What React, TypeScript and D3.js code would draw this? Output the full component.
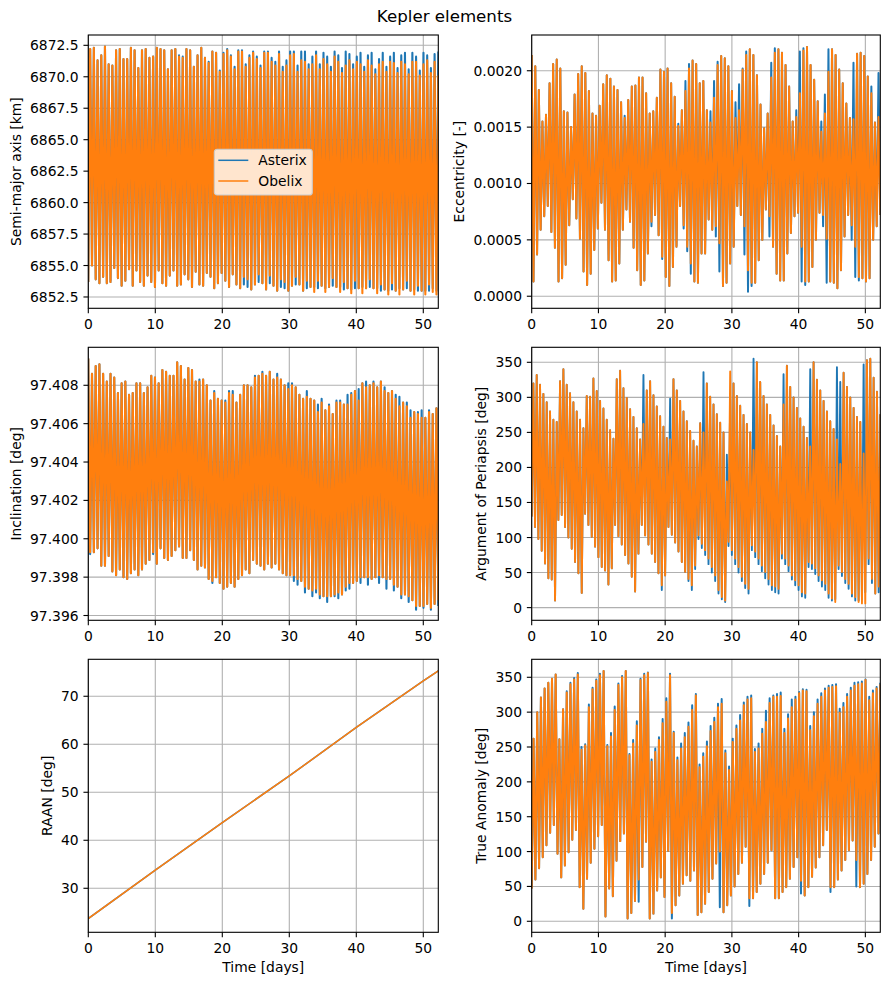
import React from "react";
import * as d3 from "d3";

// ---------------- data ----------------
// Each oscillating series is stored as the successive minima (lo) and
// maxima (hi) of its zig-zag, sampled evenly over the 52.24 day span.
const T_END = 52.24; // days

const xTicks = [0, 10, 20, 30, 40, 50];

// Semi-major axis [km]
const smaTicks = [6852.5, 6855, 6857.5, 6860, 6862.5, 6865, 6867.5, 6870, 6872.5];
const smaHiObelix = [
  6872.2, 6872.3, 6871.3, 6871.7, 6872.4, 6871.0, 6870.9, 6872.1, 6872.2, 6871.4,
  6871.4, 6872.3, 6872.1, 6870.7, 6872.1, 6872.2, 6871.5, 6871.6, 6872.3, 6872.2,
  6872.1, 6870.6, 6872.1, 6872.2, 6871.6, 6871.5, 6872.2, 6872.1, 6870.8, 6871.7,
  6872.3, 6871.5, 6871.1, 6872.0, 6871.9, 6870.4, 6871.8, 6872.1, 6871.6, 6870.6,
  6872.0, 6872.0, 6870.8, 6871.5, 6871.9, 6871.4, 6870.7, 6871.9, 6871.9, 6871.2,
  6870.9, 6871.8, 6870.4, 6870.9, 6871.7, 6871.8, 6870.4, 6871.3, 6871.2, 6870.6,
  6871.0, 6871.7, 6870.6, 6871.4, 6871.0, 6870.4, 6871.6, 6871.2, 6870.3, 6870.9,
  6871.3, 6870.6, 6871.2, 6871.0, 6870.4, 6871.3, 6870.9, 6870.2, 6871.0, 6871.2,
  6870.4, 6871.2, 6871.1, 6870.3, 6871.2, 6871.0, 6870.2, 6871.2, 6871.2, 6870.1,
  6871.0, 6871.3, 6870.3, 6871.2, 6870.1,
];
const smaHiAsterix = [
  6872.2, 6872.3, 6871.3, 6871.7, 6872.4, 6871.0, 6870.9, 6872.1, 6872.2, 6871.4,
  6871.4, 6872.3, 6872.1, 6870.7, 6872.1, 6872.2, 6871.5, 6871.6, 6872.3, 6872.2,
  6872.1, 6870.6, 6872.1, 6872.2, 6871.7, 6871.6, 6872.2, 6872.1, 6870.8, 6871.7,
  6872.3, 6871.5, 6871.2, 6872.0, 6871.9, 6870.5, 6871.9, 6872.2, 6871.7, 6870.8,
  6872.1, 6872.1, 6871.0, 6871.7, 6872.0, 6871.6, 6870.9, 6872.0, 6872.0, 6871.5,
  6871.2, 6872.0, 6870.8, 6871.3, 6872.0, 6872.0, 6870.9, 6872.0, 6872.0, 6871.0,
  6871.6, 6872.0, 6871.0, 6871.9, 6871.6, 6870.8, 6872.0, 6871.7, 6870.7, 6872.0,
  6871.8, 6871.0, 6871.6, 6871.9, 6870.8, 6871.7, 6871.9, 6870.6, 6871.4, 6871.9,
  6870.8, 6871.6, 6871.9, 6870.7, 6871.7, 6871.9, 6870.6, 6871.9, 6871.6, 6870.5,
  6871.9, 6871.7, 6870.7, 6871.8, 6872.0,
];
const smaLoObelix = [
  6853.7, 6855.0, 6853.9, 6853.6, 6854.1, 6853.6, 6853.7, 6854.8, 6854.0, 6853.4,
  6853.8, 6854.7, 6853.4, 6854.6, 6853.7, 6853.4, 6854.2, 6853.7, 6853.3, 6854.6,
  6853.6, 6853.4, 6854.2, 6854.6, 6853.4, 6853.5, 6854.3, 6853.9, 6853.3, 6854.5,
  6853.5, 6853.4, 6854.4, 6854.1, 6853.2, 6853.6, 6854.4, 6853.8, 6853.3, 6854.3,
  6853.5, 6853.2, 6854.1, 6853.9, 6853.1, 6853.5, 6854.3, 6853.6, 6853.1, 6854.2,
  6853.4, 6853.0, 6853.9, 6853.7, 6853.0, 6853.4, 6854.1, 6853.5, 6853.0, 6853.8,
  6853.3, 6852.9, 6853.8, 6853.4, 6852.9, 6853.3, 6854.0, 6853.3, 6852.9, 6853.7,
  6853.2, 6852.8, 6853.8, 6853.2, 6852.8, 6853.2, 6853.9, 6853.2, 6852.8, 6853.5,
  6853.1, 6852.7, 6853.6, 6853.0, 6852.7, 6853.1, 6853.8, 6853.0, 6852.7, 6853.4,
  6853.0, 6852.7, 6853.5, 6852.9, 6852.7,
];
const smaLoAsterix = [
  6853.7, 6855.0, 6853.9, 6853.6, 6854.1, 6853.6, 6853.7, 6854.8, 6854.0, 6853.4,
  6853.8, 6854.7, 6853.4, 6854.6, 6853.7, 6853.4, 6854.2, 6853.7, 6853.3, 6854.6,
  6853.6, 6853.4, 6854.2, 6854.6, 6853.4, 6853.5, 6854.3, 6853.9, 6853.3, 6854.5,
  6853.5, 6853.4, 6854.4, 6854.1, 6853.2, 6853.6, 6854.4, 6853.8, 6853.3, 6854.3,
  6853.5, 6853.2, 6853.5, 6853.3, 6853.1, 6853.5, 6853.7, 6853.6, 6853.1, 6853.6,
  6853.4, 6853.0, 6853.3, 6853.2, 6853.0, 6853.4, 6853.5, 6853.5, 6853.0, 6853.2,
  6853.3, 6853.3, 6853.2, 6853.4, 6853.2, 6853.3, 6853.4, 6853.3, 6853.3, 6853.1,
  6853.2, 6853.1, 6853.2, 6853.2, 6853.3, 6853.2, 6853.3, 6853.2, 6853.2, 6853.0,
  6853.1, 6853.0, 6853.1, 6853.0, 6853.2, 6853.1, 6853.2, 6853.0, 6853.1, 6853.0,
  6853.0, 6853.0, 6853.0, 6853.2, 6853.0,
];

// Eccentricity [-]
const eccTicks = [0, 0.0005, 0.001, 0.0015, 0.002];
const eccHiObelix = [
  0.00214, 0.00204, 0.00183, 0.00155, 0.00161, 0.00189, 0.00206, 0.00210, 0.00202, 0.00164,
  0.00163, 0.00150, 0.00179, 0.00197, 0.00204, 0.00198, 0.00182, 0.00162, 0.00160, 0.00169,
  0.00188, 0.00196, 0.00193, 0.00186, 0.00183, 0.00172, 0.00158, 0.00174, 0.00186, 0.00187,
  0.00194, 0.00194, 0.00180, 0.00162, 0.00164, 0.00176, 0.00201, 0.00199, 0.00202, 0.00189,
  0.00177, 0.00151, 0.00165, 0.00182, 0.00202, 0.00209, 0.00206, 0.00189,
  0.00191, 0.00165, 0.00154, 0.00176, 0.00205, 0.00213, 0.00211, 0.00204, 0.00182, 0.00158,
  0.00165, 0.00201, 0.00214, 0.00219, 0.00214, 0.00196, 0.00170, 0.00149, 0.00162, 0.00194,
  0.00216, 0.00219, 0.00216, 0.00205, 0.00186, 0.00155, 0.00159, 0.00180, 0.00218, 0.00221,
  0.00205, 0.00192, 0.00173, 0.00146, 0.00162, 0.00199, 0.00219, 0.00214, 0.00201, 0.00189,
  0.00171, 0.00158, 0.00157, 0.00215, 0.00216, 0.00213, 0.00195, 0.00180, 0.00154, 0.00159,
];
const eccHiAsterix = [
  0.00214, 0.00204, 0.00183, 0.00155, 0.00161, 0.00189, 0.00206, 0.00210, 0.00202, 0.00164,
  0.00163, 0.00150, 0.00179, 0.00197, 0.00204, 0.00198, 0.00182, 0.00162, 0.00160, 0.00169,
  0.00188, 0.00196, 0.00193, 0.00186, 0.00183, 0.00172, 0.00160, 0.00174, 0.00186, 0.00187,
  0.00194, 0.00194, 0.00180, 0.00162, 0.00164, 0.00176, 0.00201, 0.00199, 0.00202, 0.00189,
  0.00177, 0.00153, 0.00165, 0.00191, 0.00206, 0.00209, 0.00206, 0.00189,
  0.00191, 0.00165, 0.00164, 0.00191, 0.00208, 0.00213, 0.00211, 0.00204, 0.00182, 0.00172,
  0.00188, 0.00202, 0.00217, 0.00219, 0.00214, 0.00196, 0.00170, 0.00149, 0.00162, 0.00207,
  0.00220, 0.00219, 0.00216, 0.00205, 0.00186, 0.00155, 0.00165, 0.00217, 0.00220, 0.00221,
  0.00205, 0.00192, 0.00173, 0.00155, 0.00179, 0.00219, 0.00219, 0.00214, 0.00201, 0.00189,
  0.00171, 0.00158, 0.00207, 0.00215, 0.00216, 0.00213, 0.00195, 0.00186, 0.00154, 0.00198,
];
const eccLoObelix = [
  0.00013, 0.00037, 0.00059, 0.00071, 0.00080, 0.00057, 0.00043, 0.00013, 0.00016, 0.00028,
  0.00063, 0.00086, 0.00069, 0.00051, 0.00022, 0.00010, 0.00020, 0.00041, 0.00060, 0.00083,
  0.00059, 0.00032, 0.00013, 0.00014, 0.00029, 0.00059, 0.00077, 0.00066, 0.00043, 0.00023,
  0.00010, 0.00014, 0.00038, 0.00066, 0.00072, 0.00054, 0.00035, 0.00017, 0.00009, 0.00026,
  0.00044, 0.00080, 0.00063, 0.00044, 0.00029, 0.00013, 0.00012, 0.00038,
  0.00038, 0.00068, 0.00059, 0.00062, 0.00047, 0.00009, 0.00012, 0.00029, 0.00044, 0.00080,
  0.00072, 0.00062, 0.00023, 0.00012, 0.00012, 0.00032, 0.00050, 0.00077, 0.00071, 0.00044,
  0.00020, 0.00014, 0.00014, 0.00038, 0.00056, 0.00071, 0.00074, 0.00044, 0.00013, 0.00013,
  0.00026, 0.00050, 0.00074, 0.00072, 0.00051, 0.00013, 0.00012, 0.00007, 0.00023, 0.00053,
  0.00072, 0.00063, 0.00044, 0.00017, 0.00016, 0.00013, 0.00016, 0.00050, 0.00062, 0.00072,
];
const eccLoAsterix = [
  0.00013, 0.00037, 0.00059, 0.00071, 0.00080, 0.00057, 0.00043, 0.00013, 0.00016, 0.00028,
  0.00063, 0.00086, 0.00069, 0.00051, 0.00022, 0.00010, 0.00020, 0.00041, 0.00060, 0.00083,
  0.00059, 0.00032, 0.00013, 0.00014, 0.00029, 0.00059, 0.00077, 0.00066, 0.00043, 0.00023,
  0.00010, 0.00014, 0.00038, 0.00062, 0.00072, 0.00054, 0.00033, 0.00017, 0.00009, 0.00026,
  0.00044, 0.00080, 0.00060, 0.00040, 0.00020, 0.00013, 0.00012, 0.00038,
  0.00038, 0.00068, 0.00059, 0.00053, 0.00022, 0.00009, 0.00012, 0.00029, 0.00044, 0.00080,
  0.00072, 0.00037, 0.00004, 0.00009, 0.00012, 0.00032, 0.00050, 0.00077, 0.00053, 0.00044,
  0.00020, 0.00014, 0.00014, 0.00038, 0.00056, 0.00071, 0.00074, 0.00013, 0.00010, 0.00013,
  0.00026, 0.00050, 0.00074, 0.00062, 0.00012, 0.00013, 0.00012, 0.00007, 0.00023, 0.00053,
  0.00072, 0.00050, 0.00017, 0.00014, 0.00016, 0.00013, 0.00016, 0.00050, 0.00062, 0.00072,
];

// Inclination [deg]
const incTicks = [97.396, 97.398, 97.4, 97.402, 97.404, 97.406, 97.408];
const incHiObelix = [
  97.4094, 97.4086, 97.4090, 97.4091, 97.4086, 97.4082, 97.4086, 97.4084, 97.4076, 97.4081,
  97.4082, 97.4075, 97.4076, 97.4081, 97.4081, 97.4076, 97.4079, 97.4085, 97.4084, 97.4081,
  97.4088, 97.4087, 97.4085, 97.4085, 97.4092, 97.4090, 97.4083, 97.4089, 97.4088, 97.4082,
  97.4082, 97.4083, 97.4080, 97.4072, 97.4076, 97.4073, 97.4072, 97.4071, 97.4076, 97.4075,
  97.4071, 97.4075, 97.4080, 97.4080, 97.4079, 97.4084, 97.4085, 97.4086, 97.4085, 97.4087,
  97.4083, 97.4084, 97.4083, 97.4080, 97.4078, 97.4080, 97.4079, 97.4075, 97.4073, 97.4074,
  97.4073, 97.4072, 97.4066, 97.4071, 97.4067, 97.4069, 97.4065, 97.4071, 97.4071, 97.4070,
  97.4070, 97.4075, 97.4077, 97.4072, 97.4081, 97.4079, 97.4080, 97.4081, 97.4079, 97.4082,
  97.4077, 97.4076, 97.4077, 97.4073, 97.4069, 97.4071, 97.4069, 97.4063, 97.4066, 97.4065,
  97.4063, 97.4063, 97.4066, 97.4065, 97.4068,
];
const incHiAsterix = [
  97.4094, 97.4086, 97.4090, 97.4091, 97.4086, 97.4082, 97.4086, 97.4084, 97.4076, 97.4081,
  97.4082, 97.4075, 97.4076, 97.4081, 97.4081, 97.4076, 97.4079, 97.4085, 97.4084, 97.4081,
  97.4088, 97.4087, 97.4085, 97.4085, 97.4092, 97.4090, 97.4083, 97.4089, 97.4088, 97.4082,
  97.4083, 97.4083, 97.4080, 97.4072, 97.4077, 97.4073, 97.4072, 97.4072, 97.4077, 97.4077,
  97.4071, 97.4075, 97.4080, 97.4080, 97.4079, 97.4085, 97.4085, 97.4087, 97.4085, 97.4087,
  97.4083, 97.4086, 97.4083, 97.4080, 97.4081, 97.4081, 97.4079, 97.4075, 97.4073, 97.4077,
  97.4073, 97.4072, 97.4070, 97.4073, 97.4067, 97.4070, 97.4065, 97.4072, 97.4072, 97.4070,
  97.4075, 97.4076, 97.4077, 97.4078, 97.4081, 97.4082, 97.4080, 97.4082, 97.4079, 97.4082,
  97.4079, 97.4076, 97.4077, 97.4075, 97.4074, 97.4071, 97.4071, 97.4067, 97.4066, 97.4066,
  97.4067, 97.4063, 97.4067, 97.4065, 97.4068,
];
const incLoObelix = [
  97.3993, 97.3993, 97.3995, 97.3986, 97.3986, 97.3991, 97.3983, 97.3981, 97.3984, 97.3980,
  97.3979, 97.3982, 97.3984, 97.3981, 97.3984, 97.3987, 97.3989, 97.3993, 97.3987, 97.3995,
  97.3990, 97.3989, 97.3991, 97.3994, 97.3996, 97.3990, 97.3990, 97.3994, 97.3989, 97.3984,
  97.3986, 97.3985, 97.3979, 97.3978, 97.3980, 97.3977, 97.3974, 97.3975, 97.3977, 97.3975,
  97.3979, 97.3981, 97.3984, 97.3982, 97.3989, 97.3987, 97.3986, 97.3984, 97.3987, 97.3985,
  97.3987, 97.3984, 97.3982, 97.3981, 97.3981, 97.3981, 97.3979, 97.3978, 97.3975, 97.3974,
  97.3973, 97.3974, 97.3971, 97.3970, 97.3970, 97.3970, 97.3971, 97.3972, 97.3971, 97.3975,
  97.3977, 97.3977, 97.3978, 97.3980, 97.3980, 97.3980, 97.3979, 97.3980, 97.3981, 97.3980,
  97.3979, 97.3979, 97.3976, 97.3975, 97.3971, 97.3971, 97.3970, 97.3968, 97.3965, 97.3965,
  97.3965, 97.3966, 97.3964, 97.3966, 97.3968,
];
const incLoAsterix = [
  97.3992, 97.3993, 97.3995, 97.3986, 97.3986, 97.3991, 97.3983, 97.3981, 97.3984, 97.3980,
  97.3979, 97.3982, 97.3984, 97.3981, 97.3984, 97.3987, 97.3989, 97.3992, 97.3987, 97.3995,
  97.3990, 97.3989, 97.3991, 97.3994, 97.3996, 97.3990, 97.3990, 97.3994, 97.3989, 97.3984,
  97.3986, 97.3985, 97.3979, 97.3977, 97.3980, 97.3977, 97.3974, 97.3975, 97.3977, 97.3975,
  97.3979, 97.3981, 97.3984, 97.3982, 97.3989, 97.3987, 97.3986, 97.3984, 97.3987, 97.3985,
  97.3987, 97.3984, 97.3982, 97.3981, 97.3981, 97.3978, 97.3976, 97.3978, 97.3972, 97.3974,
  97.3970, 97.3972, 97.3969, 97.3970, 97.3967, 97.3970, 97.3970, 97.3969, 97.3971, 97.3973,
  97.3974, 97.3977, 97.3978, 97.3977, 97.3980, 97.3976, 97.3979, 97.3980, 97.3977, 97.3980,
  97.3974, 97.3979, 97.3973, 97.3975, 97.3969, 97.3971, 97.3967, 97.3968, 97.3963, 97.3965,
  97.3964, 97.3966, 97.3963, 97.3966, 97.3965,
];

// Argument of periapsis [deg]
const angTicks = [0, 50, 100, 150, 200, 250, 300, 350];
const perHiObelix = [
  320, 332, 318, 305, 293, 280, 268, 265,
  323, 340, 318, 306, 293, 280, 268, 256,
  302, 301, 327, 309, 295, 284, 268, 253, 241,
  326, 338, 313, 299, 283, 272, 256, 240,
  262, 310, 323, 303, 287, 273, 258, 242,
  240, 326, 310, 295, 280, 266, 252, 238, 230,
  263, 250, 320, 301, 290, 276, 264, 250, 180,
  337, 320, 302, 288, 275, 262, 250,
  225, 350, 322, 302, 290, 275, 260, 245, 230,
  290, 345, 315, 300, 285, 270, 258, 242,
  230, 350, 325, 310, 295, 280, 266, 255, 240,
  205, 335, 315, 300, 285, 272, 265, 220, 353,
  355, 328, 308, 276,
];
const perHiAsterix = [
  320, 332, 318, 305, 293, 280, 268, 265,
  323, 340, 318, 306, 293, 280, 268, 256,
  302, 301, 327, 309, 295, 284, 268, 253, 241,
  326, 338, 313, 299, 283, 272, 256, 240,
  332, 310, 323, 303, 287, 273, 258, 242,
  298, 326, 310, 295, 280, 266, 252, 238, 230,
  263, 336, 320, 301, 290, 276, 264, 250, 218,
  297, 320, 302, 288, 275, 262, 250,
  355, 350, 322, 302, 290, 275, 260, 245, 230,
  333, 345, 315, 300, 285, 270, 258, 242,
  340, 350, 325, 310, 295, 280, 266, 255, 343,
  322, 335, 315, 300, 285, 272, 265, 347, 353,
  355, 328, 308, 276,
];
const perLoObelix = [
  130, 115, 98, 81, 63, 42, 40, 10,
  125, 132, 115, 100, 84, 65, 49, 21,
  134, 118, 101, 87, 72, 58, 53, 33, 56,
  118, 102, 90, 75, 63, 44, 23, 77,
  118, 103, 90, 77, 65, 49, 32, 46,
  115, 104, 93, 80, 65, 51, 41, 32, 60,
  103, 91, 82, 70, 58, 46, 25, 15, 10,
  94, 82, 70, 58, 44, 34, 27,
  89, 80, 70, 60, 51, 41, 32, 30, 27,
  77, 70, 60, 46, 39, 32, 22, 20,
  65, 63, 56, 46, 39, 34, 20, 13, 8,
  60, 51, 41, 34, 20, 15, 8, 6, 6,
  70, 41, 20, 30,
];
const perLoAsterix = [
  130, 115, 98, 81, 63, 42, 40, 10,
  125, 132, 115, 100, 84, 65, 49, 21,
  134, 118, 101, 87, 72, 58, 53, 33, 56,
  118, 102, 90, 75, 63, 44, 23, 77,
  118, 103, 90, 77, 65, 49, 25, 46,
  115, 104, 93, 80, 65, 51, 38, 25, 55,
  98, 85, 75, 62, 50, 38, 20, 12, 8,
  88, 75, 62, 50, 38, 28, 20,
  82, 72, 62, 52, 42, 33, 25, 22, 20,
  70, 62, 52, 40, 32, 25, 16, 14,
  58, 55, 48, 38, 30, 25, 14, 10, 12,
  55, 45, 35, 27, 16, 10, 10, 12, 22,
  62, 35, 20, 22,
];

// RAAN [deg]
const raanTicks = [30, 40, 50, 60, 70];
const raanDays = [0, 10, 20, 30, 40, 50, 52.24];
const raanAsterix = [23.7, 33.8, 43.7, 53.4, 63.5, 73.2, 75.3];
const raanObelix = [23.7, 33.8, 43.7, 53.4, 63.5, 73.2, 75.3];

// True anomaly [deg]
const taHiObelix = [
  262, 300, 321, 334, 342, 348, 354, 261, 304, 328, 340, 347, 354, 246, 252, 307, 333, 345, 353, 359,
  251, 265, 303, 339, 350, 359, 238, 255, 281, 346, 353, 356, 229, 243, 260, 284, 315, 353, 270, 231,
  248, 264, 279, 303, 324, 221,
  236, 251, 273, 286, 307, 312, 241, 217, 257, 276, 288, 310, 318, 320, 243, 248, 269, 286, 313, 322,
  322, 323, 270, 291, 307, 318, 327, 331, 330, 274, 294, 312, 322, 331, 335, 336, 337, 299, 307, 322,
  331, 338, 340, 341, 346, 317, 327, 334, 340,
];
const taHiAsterix = [
  262, 300, 321, 334, 342, 348, 354, 261, 304, 330, 342, 349, 356, 250, 254, 311, 335, 347, 355, 359,
  253, 270, 308, 341, 352, 359, 240, 260, 287, 348, 355, 357, 232, 248, 264, 290, 320, 355, 272, 235,
  255, 270, 285, 310, 326, 225,
  241, 258, 280, 292, 312, 319, 245, 222, 262, 281, 296, 314, 322, 324, 247, 255, 276, 302, 320, 324,
  326, 328, 276, 297, 318, 322, 329, 333, 332, 280, 300, 318, 327, 334, 338, 339, 340, 305, 313, 326,
  335, 342, 343, 344, 347, 322, 331, 336, 342,
];
const taLoObelix = [
  47, 60, 76, 92, 109, 127, 138, 97, 63, 80, 99, 117, 131, 49, 18, 61, 84, 104, 122, 138,
  7, 47, 36, 87, 115, 126, 4, 12, 29, 60, 78, 114, 4, 11, 44, 63, 35, 101, 12, 23,
  37, 54, 66, 58, 73, 9,
  13, 25, 42, 61, 83, 100, 13, 23, 37, 50, 68, 84, 107, 33, 33, 42, 54, 68, 84, 102,
  33, 33, 42, 49, 61, 78, 92, 58, 37, 49, 64, 77, 92, 109, 131, 49, 49, 60, 73, 88,
  102, 116, 88, 49, 54, 68, 88, 107, 126,
];
const taLoAsterix = [
  47, 60, 76, 92, 109, 127, 138, 97, 63, 80, 99, 117, 131, 49, 18, 61, 84, 104, 122, 138,
  7, 47, 36, 87, 115, 126, 4, 12, 29, 28, 78, 114, 4, 11, 44, 63, 35, 101, 4, 23,
  37, 54, 66, 58, 73, 9,
  13, 25, 42, 61, 83, 20, 13, 23, 37, 50, 68, 84, 107, 22, 33, 42, 54, 68, 84, 102,
  33, 33, 42, 49, 61, 78, 92, 40, 37, 49, 64, 77, 92, 109, 131, 42, 49, 60, 73, 88,
  102, 116, 50, 49, 54, 68, 88, 107, 126,
];

// ---------------- layout ----------------
const W = 889;
const H = 985;
const COLS: [number, number][] = [[88.3, 438.3], [531.7, 880.3]];
const ROWS: [number, number][] = [[35, 308.3], [347.3, 620.3], [659.3, 932.3]];
const FS = 13.89;
const TICK = 4.86;
const PAD = 4.86;
const GRID = "#b0b0b0";
const BLUE = "#1f77b4";
const ORANGE = "#ff7f0e";

type Pt = [number, number];

// even sampling of the alternating minima / maxima over the time span
function zigzag(lo: number[], hi: number[], hiFirst: boolean): Pt[] {
  const n = Math.min(lo.length, hi.length);
  const step = T_END / (2 * n - 1);
  const pts: Pt[] = [];
  for (let i = 0; i < n; i++) {
    const a = hiFirst ? hi[i] : lo[i];
    const b = hiFirst ? lo[i] : hi[i];
    pts.push([2 * i * step, a]);
    pts.push([(2 * i + 1) * step, b]);
  }
  return pts;
}

const charW = (c: string) => (c === "." ? 0.318 : c === "-" ? 0.838 : 0.636);
const textW = (s: string) => s.split("").reduce((a, c) => a + charW(c), 0) * FS;

interface PanelSpec {
  row: number;
  col: number;
  label: string;
  domain: [number, number];
  ticks: number[];
  fmt: (v: number) => string;
  asterix: Pt[];
  obelix: Pt[];
  width: number;
  legend?: boolean;
}

const panels: PanelSpec[] = [
  {
    row: 0, col: 0, label: "Semi-major axis [km]", domain: [6851.6, 6873.32],
    ticks: smaTicks, fmt: d3.format(".1f"),
    asterix: zigzag(smaLoAsterix, smaHiAsterix, false),
    obelix: zigzag(smaLoObelix, smaHiObelix, false),
    width: 2.1,
    legend: true,
  },
  {
    row: 0, col: 1, label: "Eccentricity [-]", domain: [-0.000107, 0.002317],
    ticks: eccTicks, fmt: d3.format(".4f"),
    asterix: zigzag(eccLoAsterix, eccHiAsterix, true),
    obelix: zigzag(eccLoObelix, eccHiObelix, true),
    width: 2.0,
  },
  {
    row: 1, col: 0, label: "Inclination [deg]", domain: [97.39575, 97.40998],
    ticks: incTicks, fmt: d3.format(".3f"),
    asterix: zigzag(incLoAsterix, incHiAsterix, true),
    obelix: zigzag(incLoObelix, incHiObelix, true),
    width: 2.1,
  },
  {
    row: 1, col: 1, label: "Argument of Periapsis [deg]", domain: [-18.1, 371.4],
    ticks: angTicks, fmt: d3.format("d"),
    asterix: zigzag(perLoAsterix, perHiAsterix, false),
    obelix: zigzag(perLoObelix, perHiObelix, false),
    width: 1.9,
  },
  {
    row: 2, col: 0, label: "RAAN [deg]", domain: [20.83, 77.7],
    ticks: raanTicks, fmt: d3.format("d"),
    asterix: raanDays.map((t, i) => [t, raanAsterix[i]] as Pt),
    obelix: raanDays.map((t, i) => [t, raanObelix[i]] as Pt),
    width: 1.5,
  },
  {
    row: 2, col: 1, label: "True Anomaly [deg]", domain: [-15.8, 375.8],
    ticks: angTicks, fmt: d3.format("d"),
    asterix: zigzag(taLoAsterix, taHiAsterix, false),
    obelix: zigzag(taLoObelix, taHiObelix, false),
    width: 2.0,
  },
];

function Panel({ p, idx }: { p: PanelSpec; idx: number }) {
  const [x0, x1] = COLS[p.col];
  const [y0, y1] = ROWS[p.row];
  const x = d3.scaleLinear().domain([0, T_END]).range([x0, x1]);
  const y = d3.scaleLinear().domain(p.domain).range([y1, y0]);
  const line = d3.line<Pt>().x((d) => x(d[0])).y((d) => y(d[1]));
  const labelW = d3.max(p.ticks, (t) => textW(p.fmt(t))) || 0;
  const ylabX = x0 - TICK - PAD - labelW - 9.3;
  const ymid = (y0 + y1) / 2;
  const clipId = `clip-${idx}`;

  return (
    <g>
      <defs>
        <clipPath id={clipId}>
          <rect x={x0} y={y0} width={x1 - x0} height={y1 - y0} />
        </clipPath>
      </defs>
      {xTicks.map((t) => (
        <line key={`gx${t}`} x1={x(t)} x2={x(t)} y1={y0} y2={y1} stroke={GRID} strokeWidth={1.1} />
      ))}
      {p.ticks.map((t) => (
        <line key={`gy${t}`} x1={x0} x2={x1} y1={y(t)} y2={y(t)} stroke={GRID} strokeWidth={1.1} />
      ))}
      <g clipPath={`url(#${clipId})`}>
        <path d={line(p.asterix) || ""} fill="none" stroke={BLUE} strokeWidth={p.width} strokeLinejoin="round" />
        <path d={line(p.obelix) || ""} fill="none" stroke={ORANGE} strokeWidth={p.width} strokeLinejoin="round" />
      </g>
      <rect x={x0} y={y0} width={x1 - x0} height={y1 - y0} fill="none" stroke="#000" strokeWidth={1.1} />
      {xTicks.map((t) => (
        <g key={`tx${t}`}>
          <line x1={x(t)} x2={x(t)} y1={y1} y2={y1 + TICK} stroke="#000" strokeWidth={1.1} />
          <text x={x(t)} y={y1 + 20.2} fontSize={FS} textAnchor="middle" fill="#000">{t}</text>
        </g>
      ))}
      {p.ticks.map((t) => (
        <g key={`ty${t}`}>
          <line x1={x0 - TICK} x2={x0} y1={y(t)} y2={y(t)} stroke="#000" strokeWidth={1.1} />
          <text x={x0 - TICK - PAD} y={y(t) + 5} fontSize={FS} textAnchor="end" fill="#000">{p.fmt(t)}</text>
        </g>
      ))}
      <text
        transform={`translate(${ylabX},${ymid}) rotate(-90)`}
        fontSize={FS}
        textAnchor="middle"
        fill="#000"
      >
        {p.label}
      </text>
      {p.row === 2 && (
        <text x={(x0 + x1) / 2} y={y1 + 39.2} fontSize={FS} textAnchor="middle" fill="#000">
          Time [days]
        </text>
      )}
      {p.legend && (
        <g transform={`translate(${x0 + 126},${y0 + 114.3})`}>
          <rect x={0} y={0} width={98} height={45.7} rx={2.8} fill="#fff" fillOpacity={0.8} stroke="#cccccc" strokeWidth={1.1} />
          <line x1={4} x2={34} y1={11} y2={11} stroke={BLUE} strokeWidth={1.5} />
          <text x={44} y={15.8} fontSize={FS} fill="#000">Asterix</text>
          <line x1={4} x2={34} y1={31.7} y2={31.7} stroke={ORANGE} strokeWidth={1.5} />
          <text x={44} y={36.5} fontSize={FS} fill="#000">Obelix</text>
        </g>
      )}
    </g>
  );
}

export default function App() {
  return (
    <svg
      width={W}
      height={H}
      viewBox={`0 0 ${W} ${H}`}
      style={{ position: "absolute", left: 0, top: 0, background: "#fff" }}
      fontFamily="'DejaVu Sans', sans-serif"
    >
      <rect x={0} y={0} width={W} height={H} fill="#fff" />
      <text x={444.5} y={21.5} fontSize={16.67} textAnchor="middle" fill="#000">
        Kepler elements
      </text>
      {panels.map((p, i) => (
        <Panel key={i} p={p} idx={i} />
      ))}
    </svg>
  );
}
